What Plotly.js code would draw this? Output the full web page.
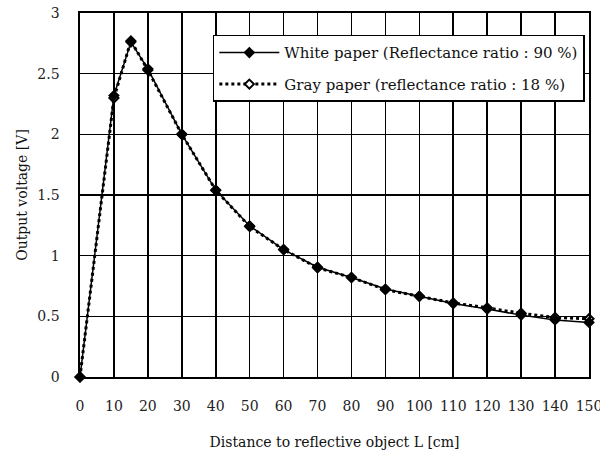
<!DOCTYPE html>
<html><head><meta charset="utf-8">
<script src="https://cdn.plot.ly/plotly-3.0.1.min.js"></script>
<style>body{margin:0;background:#fff}</style>
</head><body>
<div id="chart" style="width:600px;height:456px"></div>
<script>
const distance = [0, 10, 15, 20, 30, 40, 50, 60, 70, 80, 90, 100, 110, 120, 130, 140, 150];
const whitePaper = [0, 2.32, 2.76, 2.54, 2.0, 1.54, 1.245, 1.05, 0.905, 0.82, 0.725, 0.665, 0.605, 0.56, 0.51, 0.47, 0.45];
const grayPaper = [0, 2.3, 2.77, 2.53, 2.0, 1.54, 1.24, 1.05, 0.9, 0.82, 0.72, 0.665, 0.61, 0.57, 0.525, 0.49, 0.48];
const xTicks = [0,10,20,30,40,50,60,70,80,90,100,110,120,130,140,150];
const yTicks = [0,0.5,1,1.5,2,2.5,3];

const font = 'DejaVu Serif';
const traces = [
  {x: distance, y: grayPaper, name: 'Gray paper (reflectance ratio : 18 %)', mode: 'lines+markers', legendrank: 2, legendgroup: 'b',
   line: {color: '#000', width: 3, dash: 'dot'}, marker: {symbol: 'diamond', size: 7, color: '#fff', line: {color: '#000', width: 2}}, cliponaxis: false},
  {x: distance, y: whitePaper, name: 'White paper (Reflectance ratio : 90 %)', mode: 'lines+markers', legendrank: 1, legendgroup: 'a',
   line: {color: '#000', width: 1.5}, marker: {symbol: 'diamond', size: 9, color: '#000'}, cliponaxis: false}
];
const layout = {
  width: 600, height: 456,
  margin: {l: 80, r: 11, t: 13, b: 79},
  paper_bgcolor: '#fff', plot_bgcolor: '#fff',
  font: {family: font, size: 14, color: '#222'},
  showlegend: true,
  legend: {x: 0.261, y: 0.94, xanchor: 'left', yanchor: 'top', bgcolor: '#fff', bordercolor: '#000', borderwidth: 1.5,
           font: {family: font, size: 15, color: '#111'}, itemwidth: 60, tracegroupgap: 9, traceorder: 'grouped'},
  xaxis: {range: [0, 150], tickvals: xTicks, ticktext: xTicks.map(String), showgrid: true, gridcolor: '#000', gridwidth: 1.6,
          zeroline: false, showline: true, linecolor: '#000', linewidth: 1.6, mirror: true, ticks: '', ticklabelstandoff: 16,
          ticklabeloverflow: 'allow', tickfont: {family: font, size: 14, color: '#222'},
          title: {text: 'Distance to reflective object L [cm]', font: {family: font, size: 14, color: '#111'}, standoff: 24}},
  yaxis: {range: [0, 3], tickvals: yTicks, ticktext: ['0','0.5','1','1.5','2','2.5','3'], showgrid: true, gridcolor: '#000', gridwidth: 1.6,
          zeroline: false, showline: true, linecolor: '#000', linewidth: 1.6, mirror: true, ticks: '', ticklabelstandoff: 16,
          ticklabeloverflow: 'allow', tickfont: {family: font, size: 14, color: '#222'},
          title: {text: 'Output voltage [V]', font: {family: font, size: 14, color: '#111'}, standoff: 6}}
};
Plotly.newPlot('chart', traces, layout, {displayModeBar: false, staticPlot: true});
</script>
</body></html>
